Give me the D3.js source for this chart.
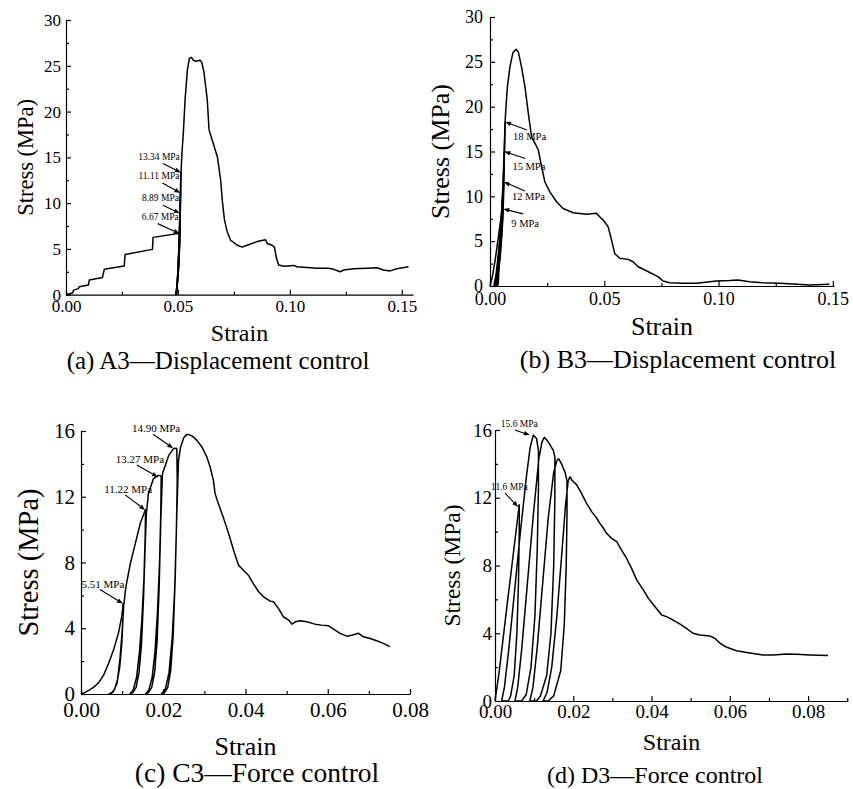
<!DOCTYPE html>
<html>
<head>
<meta charset="utf-8">
<script src="https://cdn.jsdelivr.net/npm/d3@7"></script>
<style>
    body { margin: 0; background: #fff; }
    svg text { font-family: "Liberation Serif", "Times New Roman", serif; }
    .curve { fill: none; stroke: #000; stroke-width: 1.5; stroke-linejoin: round; }
    .axis path, .axis line { stroke: #000; stroke-width: 1.2; }
</style>
</head>
<body>
<svg id="chart" width="853" height="789" font-family="Liberation Serif, serif"></svg>
<script>
// ---- (a) A3 displacement control ----
const a3Main = [[0,0],[0.0030,0.22],[0.0034,0.5],[0.0055,0.66],[0.0059,0.87],[0.0100,1.06],[0.0104,1.6],[0.0163,1.89],
    [0.0171,2.77],[0.0260,3.13],[0.0264,4.4],[0.0386,4.95],[0.0389,6.26],[0.0508,6.7],[0.0510,9.0],[0.0512,11.2],
    [0.0514,13.4],[0.0518,15.5],[0.0524,17.6],[0.0532,21.3],[0.0542,24.5],[0.0551,25.8],[0.0560,25.92],[0.0569,25.6],
    [0.0579,25.5],[0.0599,25.6],[0.0606,25.4],[0.0616,24.35],[0.0631,21.3],[0.0639,18.0],[0.0653,16.9],[0.0676,15.07],
    [0.0691,12.5],[0.0698,10.3],[0.0708,8.15],[0.0720,6.88],[0.0735,5.97],[0.0765,5.4],[0.0787,5.2],[0.0809,5.4],
    [0.0854,5.8],[0.0891,6.0],[0.0899,5.6],[0.0921,5.4],[0.0931,5.2],[0.0940,4.0],[0.0950,3.24],[0.0973,3.1],
    [0.1017,3.2],[0.1032,3.05],[0.1062,3.0],[0.1121,2.9],[0.1173,2.9],[0.1196,2.77],[0.1225,2.5],[0.1240,2.7],
    [0.1285,2.84],[0.1344,2.9],[0.1389,2.95],[0.1418,2.7],[0.1448,2.6],[0.1478,2.84],[0.1530,3.06]];
const a3Loops = [
    [[0.0490,0],[0.0498,1.5],[0.0504,3.5],[0.0507,5.2],[0.0508,6.67],[0.0506,5.0],[0.0501,2.8],[0.0495,0.9],[0.0491,0]],
    [[0.0491,0],[0.0499,1.8],[0.0505,4.2],[0.0508,6.5],[0.0509,8.89],[0.0507,6.6],[0.0502,3.5],[0.0496,1.0],[0.0492,0]],
    [[0.0492,0],[0.0500,2.0],[0.0506,5.0],[0.0509,8.0],[0.0511,11.11],[0.0508,8.2],[0.0503,4.5],[0.0497,1.3],[0.0493,0]],
    [[0.0493,0],[0.0501,2.2],[0.0507,5.5],[0.0511,9.5],[0.0513,13.34],[0.0510,10.0],[0.0505,5.5],[0.0498,1.5],[0.0494,0]]
];
const a3Labels = ['13.34 MPa', '11.11 MPa', '8.89 MPa', '6.67 MPa'];
const a3LabelPts = [[0.0513,13.34],[0.0511,11.11],[0.0509,8.89],[0.0508,6.67]];
const a3XTicks = [0, 0.05, 0.10, 0.15];
const a3XMinor = [0.025, 0.075, 0.125];
const a3YTicks = [0, 5, 10, 15, 20, 25, 30];
const a3YMinor = [2.5, 7.5, 12.5, 17.5, 22.5, 27.5];

// ---- (b) B3 displacement control ----
const b3Main = [[0,0],[0.0010,1.0],[0.0022,2.8],[0.0034,5.0],[0.0046,7.2],[0.0056,9.0],[0.0060,11.5],[0.0063,14.8],
    [0.0066,18.3],[0.0070,20.0],[0.0076,22.2],[0.0087,24.4],[0.0100,26.0],[0.0114,26.4],[0.0124,26.1],[0.0138,24.4],
    [0.0153,22.2],[0.0168,19.2],[0.0182,16.6],[0.0201,15.7],[0.0211,15.2],[0.0226,13.3],[0.0240,11.6],[0.0262,10.5],
    [0.0291,9.4],[0.0320,8.65],[0.0364,8.17],[0.0422,8.0],[0.0466,8.1],[0.0481,7.7],[0.0495,7.35],[0.0517,6.6],
    [0.0532,5.1],[0.0546,3.6],[0.0568,3.1],[0.0604,2.97],[0.0626,2.7],[0.0648,2.15],[0.0684,1.7],[0.0735,1.04],
    [0.0757,0.56],[0.0786,0.37],[0.0845,0.3],[0.0903,0.3],[0.0990,0.56],[0.1048,0.6],[0.1085,0.67],[0.1136,0.48],
    [0.1194,0.37],[0.1267,0.3],[0.1325,0.22],[0.1398,0.11],[0.1485,0.19]];
const b3Loops = [
    [[0.0058,8.6],[0.0054,6.5],[0.0047,4.0],[0.0038,1.8],[0.0030,0.4],[0.0024,0],[0.0018,0],[0.0026,1.2],[0.0036,3.5],[0.0046,6.0],[0.0058,8.6]],
    [[0.0061,11.6],[0.0058,9.0],[0.0051,6.0],[0.0042,3.0],[0.0033,1.0],[0.0027,0],[0.0021,0],[0.0030,1.5],[0.0040,4.0],[0.0050,7.5],[0.0061,11.6]],
    [[0.0063,15.0],[0.0060,12.0],[0.0054,8.5],[0.0045,4.5],[0.0036,1.5],[0.0030,0],[0.0024,0],[0.0033,1.8],[0.0043,5.0],[0.0054,9.5],[0.0063,15.0]],
    [[0.0066,18.3],[0.0063,15.0],[0.0057,10.5],[0.0048,5.5],[0.0039,2.0],[0.0033,0],[0.0027,0],[0.0036,2.0],[0.0046,6.0],[0.0057,11.5],[0.0066,18.3]]
];
const b3Labels = ['18 MPa', '15 MPa', '12 MPa', '9 MPa'];
const b3LabelPts = [[0.0066,18.3],[0.0063,15.0],[0.0061,11.6],[0.0058,8.6]];
const b3XTicks = [0, 0.05, 0.10, 0.15];
const b3XMinor = [0.025, 0.075, 0.125];
const b3YTicks = [0, 5, 10, 15, 20, 25, 30];
const b3YMinor = [2.5, 7.5, 12.5, 17.5, 22.5, 27.5];

// ---- (c) C3 force control ----
const c3Main = [[0,0],[0.0010,0.1],[0.0023,0.28],[0.0035,0.5],[0.0043,0.69],[0.0055,1.15],[0.0067,1.86],[0.0079,2.67],
    [0.0091,3.7],[0.0099,4.7],[0.0103,5.51]];
const c3Loops = [
    [[0.0103,5.51],[0.0102,4.5],[0.0099,3.0],[0.0094,1.6],[0.0087,0.6],[0.0078,0.12],[0.0068,0],[0.0074,0.05],[0.0082,0.3],
     [0.0089,0.9],[0.0095,2.2],[0.0100,3.8],[0.0104,5.4],[0.0108,6.3],[0.0112,6.9],[0.0120,7.94],[0.0132,9.15],[0.0144,10.37],[0.0152,10.9],[0.0157,11.22]],
    [[0.0157,11.22],[0.0156,9.5],[0.0153,7.0],[0.0148,4.5],[0.0142,2.5],[0.0135,1.0],[0.0127,0.25],[0.0119,0],[0.0126,0.08],[0.0134,0.4],
     [0.0141,1.3],[0.0147,3.0],[0.0152,5.8],[0.0156,9.0],[0.0159,11.0],[0.0164,12.2],[0.0176,13.1],[0.0189,13.3],[0.0195,13.27]],
    [[0.0195,13.27],[0.0194,11.0],[0.0191,8.0],[0.0186,5.0],[0.0180,2.6],[0.0173,1.0],[0.0165,0.25],[0.0157,0],[0.0164,0.08],[0.0172,0.4],
     [0.0179,1.3],[0.0185,3.2],[0.0190,6.5],[0.0194,10.5],[0.0198,13.4],[0.0205,13.9],[0.0213,14.5],[0.0225,14.93],[0.0233,14.95]],
    [[0.0233,14.95],[0.0234,13.0],[0.0232,10.0],[0.0228,6.5],[0.0222,3.5],[0.0214,1.3],[0.0205,0.3],[0.0196,0],[0.0203,0.08],[0.0211,0.4],
     [0.0218,1.4],[0.0224,3.5],[0.0229,7.0],[0.0233,11.0],[0.0237,14.2],[0.0242,15.0],[0.0250,15.6],[0.0257,15.78],[0.0262,15.78]]
];
const c3Softening = [[0.0262,15.78],[0.0270,15.7],[0.0282,15.43],[0.0294,15.03],[0.0306,14.42],[0.0314,13.81],[0.0322,13.0],
    [0.0326,12.19],[0.0334,11.58],[0.0347,10.67],[0.0359,9.76],[0.0371,8.75],[0.0383,7.84],[0.0395,7.53],[0.0407,7.23],
    [0.0419,6.72],[0.0432,6.22],[0.0444,5.91],[0.0460,5.65],[0.0468,5.61],[0.0480,5.21],[0.0492,4.7],[0.0505,4.5],
    [0.0513,4.25],[0.0521,4.39],[0.0533,4.46],[0.0549,4.39],[0.0569,4.25],[0.0585,4.19],[0.0602,4.15],[0.0614,3.95],
    [0.0630,3.69],[0.0646,3.52],[0.0658,3.58],[0.0675,3.69],[0.0687,3.48],[0.0703,3.38],[0.0719,3.24],[0.0735,3.08],[0.0751,2.88]];
const c3Labels = ['14.90 MPa', '13.27 MPa', '11.22 MPa', '5.51 MPa'];
const c3LabelPts = [[0.0224,14.95],[0.0187,13.2],[0.0156,11.2],[0.0102,5.5]];
const c3XTicks = [0, 0.02, 0.04, 0.06, 0.08];
const c3XMinor = [0.01, 0.03, 0.05, 0.07];
const c3YTicks = [0, 4, 8, 12, 16];
const c3YMinor = [2, 6, 10, 14];

// ---- (d) D3 force control ----
const d3Main = [[0,0],[0.0010,1.6],[0.0030,5.5],[0.0050,9.3],[0.0062,11.6]];
const d3Loops = [
    [[0.0062,11.6],[0.0062,10.0],[0.0060,7.0],[0.0056,4.0],[0.0049,1.5],[0.0040,0.3],[0.0034,0],[0.0017,0],[0.0024,0.8],
     [0.0035,3.0],[0.0050,6.5],[0.0065,10.0],[0.0080,13.2],[0.0090,15.0],[0.0098,15.7],[0.0106,15.5],[0.0111,14.8]],
    [[0.0111,14.8],[0.0111,12.5],[0.0108,9.0],[0.0102,5.0],[0.0092,2.0],[0.0080,0.4],[0.0068,0],[0.0051,0],[0.0058,0.8],
     [0.0068,3.0],[0.0083,7.0],[0.0098,11.0],[0.0112,14.3],[0.0120,15.3],[0.0126,15.57],[0.0136,15.3],[0.0149,14.8],[0.0153,14.4]],
    [[0.0153,14.4],[0.0153,12.0],[0.0150,8.0],[0.0143,4.0],[0.0132,1.5],[0.0116,0.3],[0.0106,0],[0.0089,0],[0.0097,0.8],
     [0.0108,3.2],[0.0122,7.0],[0.0136,10.8],[0.0150,13.5],[0.0158,14.2],[0.0163,14.3],[0.0170,14.0],[0.0179,13.5],[0.0184,13.0]],
    [[0.0184,13.0],[0.0184,11.0],[0.0182,8.0],[0.0177,4.5],[0.0168,1.8],[0.0150,0.3],[0.0136,0],[0.0123,0],[0.0133,0.5],
     [0.0145,2.0],[0.0158,5.0],[0.0170,8.5],[0.0180,11.5],[0.0187,13.0],[0.0192,13.25]]
];
const d3Softening = [[0.0192,13.25],[0.0196,13.05],[0.0209,12.76],[0.0221,12.26],[0.0234,11.67],[0.0247,11.18],[0.0260,10.79],
    [0.0268,10.49],[0.0277,10.2],[0.0285,9.9],[0.0298,9.6],[0.0311,9.41],[0.0323,8.92],[0.0336,8.43],[0.0349,7.83],
    [0.0362,7.15],[0.0379,6.56],[0.0392,6.06],[0.0409,5.57],[0.0426,5.08],[0.0438,4.98],[0.0455,4.78],[0.0472,4.55],
    [0.0489,4.29],[0.0506,4.0],[0.0523,3.9],[0.0549,3.84],[0.0562,3.7],[0.0575,3.41],[0.0592,3.17],[0.0617,2.97],
    [0.0643,2.87],[0.0668,2.78],[0.0685,2.72],[0.0711,2.72],[0.0745,2.78],[0.0770,2.76],[0.0804,2.72],[0.0851,2.68]];
const d3Labels = ['15.6 MPa', '11.6 MPa'];
const d3LabelPts = [[0.0089,15.7],[0.0059,11.45]];
const d3XTicks = [0, 0.02, 0.04, 0.06, 0.08];
const d3XMinor = [0.01, 0.03, 0.05, 0.07, 0.09];
const d3YTicks = [0, 4, 8, 12, 16];
const d3YMinor = [2, 6, 10, 14];

const captions = ['(a) A3\u2014Displacement control', '(b) B3\u2014Displacement control',
                  '(c) C3\u2014Force control', '(d) D3\u2014Force control'];

const SERIF = '"Liberation Serif", "Times New Roman", serif';

// layout of each panel (pixels)
const panels = [
    { left: 66, right: 413, top: 20, bottom: 294.7, xMax: 0.155, yMax: 30,
      xTicks: a3XTicks, xMinor: a3XMinor, yTicks: a3YTicks, yMinor: a3YMinor,
      tickFont: 17, xLabelBase: 17, yPad: 5,
      yTitleX: 25, yTitleSize: 22.5, xTitleY: 341, xTitleSize: 24,
      capX: 218, capY: 369, capSize: 25, caption: captions[0],
      lines: [a3Main], loops: a3Loops, loopWidth: 1.9, curveLoops: true,
      labels: a3Labels, labelPts: a3LabelPts, labelFont: 9.5,
      tails: [[-18,-9],[-18,-10],[-17,-8],[-22,-10]],
      textPos: (tip, tail) => [tip[0] - 1, tail[1] - 4, 'end'] },
    { left: 490, right: 834, top: 17, bottom: 286, xMax: 0.1505, yMax: 30,
      xTicks: b3XTicks, xMinor: b3XMinor, yTicks: b3YTicks, yMinor: b3YMinor,
      tickFont: 18, xLabelBase: 19, yPad: 7,
      yTitleX: 440, yTitleSize: 26, xTitleY: 335, xTitleSize: 26,
      capX: 678, capY: 368, capSize: 26, caption: captions[1],
      lines: [b3Main], loops: b3Loops, loopWidth: 2.3, curveLoops: true,
      labels: b3Labels, labelPts: b3LabelPts, labelFont: 10.5,
      tails: [[22,8],[21,7],[21,9],[20,5]],
      textPos: (tip, tail) => [tip[0] + 8, tip[1] + 18, 'start'] },
    { left: 81, right: 410, top: 431, bottom: 694, xMax: 0.08, yMax: 16,
      xTicks: c3XTicks, xMinor: c3XMinor, yTicks: c3YTicks, yMinor: c3YMinor,
      tickFont: 21, xLabelBase: 23, yPad: 6,
      yTitleX: 28, yTitleSize: 28.5, xTitleY: 755, xTitleSize: 26,
      capX: 257, capY: 782, capSize: 27.5, caption: captions[2],
      lines: [c3Main, c3Softening], loops: c3Loops, loopWidth: 1.4, curveLoops: false,
      labels: c3Labels, labelPts: c3LabelPts, labelFont: 11,
      tails: [[-20,-14],[-21,-12],[-20,-15],[-23,-14]],
      textPos: (tip, tail) => [tail[0] + 3, tail[1] - 2, 'middle'] },
    { left: 495, right: 848, top: 430, bottom: 701, xMax: 0.0902, yMax: 16,
      xTicks: d3XTicks, xMinor: d3XMinor, yTicks: d3YTicks, yMinor: d3YMinor,
      tickFont: 19, xLabelBase: 17, yPad: 3,
      yTitleX: 452, yTitleSize: 23.5, xTitleY: 750, xTitleSize: 24,
      capX: 655, capY: 783, capSize: 24, caption: captions[3],
      lines: [d3Main, d3Softening], loops: d3Loops, loopWidth: 1.3, curveLoops: false,
      labels: d3Labels, labelPts: d3LabelPts, labelFont: 9.5,
      tails: [[-15,-5],[-13,-14]],
      textPos: (tip, tail) => [tail[0] - 14, tail[1] - 3, 'start'] }
];

const svg = d3.select('#chart');
svg.append('rect').attr('width', 853).attr('height', 789).attr('fill', '#fff');

panels.forEach(p => drawPanel(p));

function drawPanel(p) {
    const x = d3.scaleLinear().domain([0, p.xMax]).range([p.left, p.right]);
    const y = d3.scaleLinear().domain([0, p.yMax]).range([p.bottom, p.top]);
    const g = svg.append('g').attr('font-family', SERIF);

    // minor ticks first (no labels)
    g.append('g')
        .attr('class', 'axis')
        .attr('transform', `translate(0,${p.bottom})`)
        .call(d3.axisBottom(x).tickValues(p.xMinor).tickSize(-3).tickFormat(''))
        .call(s => s.select('.domain').remove());
    g.append('g')
        .attr('class', 'axis')
        .attr('transform', `translate(${p.left},0)`)
        .call(d3.axisLeft(y).tickValues(p.yMinor).tickSize(-3).tickFormat(''))
        .call(s => s.select('.domain').remove());

    // major axes
    const xAxis = g.append('g')
        .attr('class', 'axis')
        .attr('transform', `translate(0,${p.bottom})`)
        .call(d3.axisBottom(x).tickValues(p.xTicks).tickSize(-5).tickSizeOuter(0)
            .tickPadding(p.xLabelBase - 0.71 * p.tickFont).tickFormat(d3.format('.2f')));
    const yAxis = g.append('g')
        .attr('class', 'axis')
        .attr('transform', `translate(${p.left},0)`)
        .call(d3.axisLeft(y).tickValues(p.yTicks).tickSize(-5).tickSizeOuter(0)
            .tickPadding(p.yPad).tickFormat(d3.format('d')));
    [xAxis, yAxis].forEach(a => {
        a.attr('font-family', SERIF).attr('font-size', p.tickFont);
        a.selectAll('text').attr('fill', '#000');
    });

    // axis titles
    g.append('text')
        .attr('transform', `translate(${p.yTitleX},${(p.top + p.bottom) / 2}) rotate(-90)`)
        .attr('text-anchor', 'middle')
        .attr('dominant-baseline', 'central')
        .attr('font-family', SERIF)
        .attr('font-size', p.yTitleSize)
        .text('Stress (MPa)');
    g.append('text')
        .attr('x', (p.left + p.right) / 2)
        .attr('y', p.xTitleY)
        .attr('text-anchor', 'middle')
        .attr('font-family', SERIF)
        .attr('font-size', p.xTitleSize)
        .text('Strain');
    g.append('text')
        .attr('x', p.capX)
        .attr('y', p.capY)
        .attr('text-anchor', 'middle')
        .attr('font-family', SERIF)
        .attr('font-size', p.capSize)
        .text(p.caption);

    const line = d3.line().x(d => x(d[0])).y(d => y(d[1]));
    const loopLine = d3.line().x(d => x(d[0])).y(d => y(d[1]))
        .curve(p.curveLoops ? d3.curveCatmullRom.alpha(0.5) : d3.curveLinear);

    g.selectAll('.loop')
        .data(p.loops)
        .join('path')
            .attr('class', 'curve loop')
            .attr('stroke-width', p.loopWidth)
            .attr('d', loopLine);

    g.selectAll('.main')
        .data(p.lines)
        .join('path')
            .attr('class', 'curve main')
            .attr('d', line);

    // annotation arrows
    p.labels.forEach((lab, i) => {
        const tip = [x(p.labelPts[i][0]), y(p.labelPts[i][1])];
        const tail = [tip[0] + p.tails[i][0], tip[1] + p.tails[i][1]];
        const ang = Math.atan2(tip[1] - tail[1], tip[0] - tail[0]);
        const L = 6, W = 2.3;
        const bx = tip[0] - L * Math.cos(ang), by = tip[1] - L * Math.sin(ang);
        g.append('line')
            .attr('x1', tail[0]).attr('y1', tail[1])
            .attr('x2', bx).attr('y2', by)
            .attr('stroke', '#000').attr('stroke-width', 1.1);
        g.append('polygon')
            .attr('points', [
                tip,
                [bx - W * Math.sin(ang), by + W * Math.cos(ang)],
                [bx + W * Math.sin(ang), by - W * Math.cos(ang)]
            ].map(q => q.join(',')).join(' '))
            .attr('fill', '#000');
        const t = p.textPos(tip, tail);
        g.append('text')
            .attr('x', t[0]).attr('y', t[1])
            .attr('text-anchor', t[2])
            .attr('font-family', SERIF)
            .attr('font-size', p.labelFont)
            .text(lab);
    });
}
</script>
</body>
</html>
